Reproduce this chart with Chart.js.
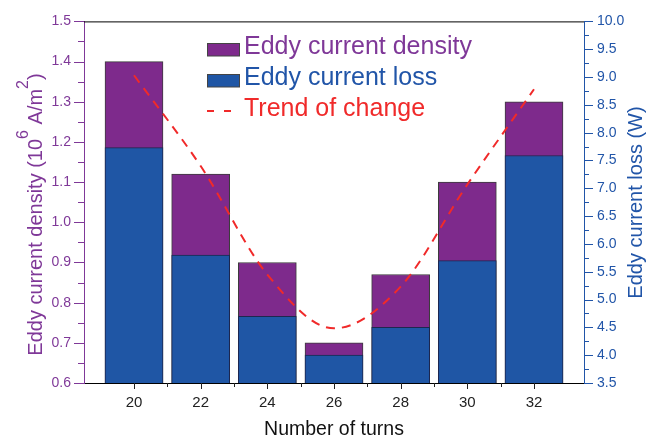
<!DOCTYPE html>
<html>
<head>
<meta charset="utf-8">
<script src="https://cdn.jsdelivr.net/npm/chart.js@4/dist/chart.umd.min.js"></script>
<style>
  html, body { margin: 0; padding: 0; background: #fff; }
  #wrap { width: 654px; height: 441px; position: relative; }
</style>
</head>
<body>
<div id="wrap"><canvas id="c"></canvas></div>
<script>
// ---- data ----
const turns = [20, 22, 24, 26, 28, 30, 32];
const density = [1.40, 1.12, 0.90, 0.70, 0.87, 1.10, 1.30];     // 10^6 A/m^2 (left axis)
const loss = [7.73, 5.80, 4.70, 4.00, 4.50, 5.70, 7.59];         // W (right axis)
const trend = [1.366, 1.14, 0.87, 0.736, 0.84, 1.094, 1.331];    // trend of change (left axis)
const seriesNames = ['Eddy current density', 'Eddy current loss', 'Trend of change'];
const xTitle = 'Number of turns';
const rightTitle = 'Eddy current loss (W)';

// ---- styles ----
const FONT = '"Liberation Sans", Arial, sans-serif';
const PURPLE = '#7E2A8C';
const BLUE = '#1F56A5';
const RED = '#F02A2A';
const PURPLE_TXT = '#7F3898';
const BLUE_TXT = '#2155A8';

const decor = {
  id: 'decor',
  afterDraw(chart) {
    const ctx = chart.ctx;
    const { left, right, top, bottom } = chart.chartArea;
    const sx = chart.scales.x, sy = chart.scales.y, sy2 = chart.scales.y2;
    ctx.save();
    // top frame line
    ctx.lineWidth = 1;
    ctx.strokeStyle = '#000';
    ctx.beginPath(); ctx.moveTo(left, top + 0.5); ctx.lineTo(right, top + 0.5); ctx.stroke();

    // left ticks
    ctx.strokeStyle = PURPLE_TXT;
    for (let i = 0; i <= 18; i++) {
      const v = sy.min + i * 0.05;
      const p = Math.round(sy.getPixelForValue(v)) + 0.5;
      const len = (i % 2 === 0) ? 10 : 6;
      ctx.beginPath(); ctx.moveTo(left, p); ctx.lineTo(left - len, p); ctx.stroke();
    }
    // right ticks
    ctx.strokeStyle = BLUE_TXT;
    for (let i = 0; i <= 26; i++) {
      const v = sy2.min + i * 0.25;
      const p = Math.round(sy2.getPixelForValue(v)) + 0.5;
      const len = (i % 2 === 0) ? 9 : 5;
      ctx.beginPath(); ctx.moveTo(right, p); ctx.lineTo(right + len, p); ctx.stroke();
    }
    // bottom ticks
    ctx.strokeStyle = '#222';
    for (let v = sx.min + 1; v < sx.max; v++) {
      const p = Math.round(sx.getPixelForValue(v)) + 0.5;
      const len = (v % 2 === 0) ? 6 : 4;
      ctx.beginPath(); ctx.moveTo(p, bottom); ctx.lineTo(p, bottom + len); ctx.stroke();
    }

    // left title with superscripts
    const segs = [
      ['Eddy current density (10', 20, 0],
      ['6', 16, -14],
      [' A/m', 20, 0],
      ['2', 16, -14],
      [')', 20, 0]
    ];
    ctx.save();
    ctx.translate(41.5, 214.5);
    ctx.rotate(-Math.PI / 2);
    ctx.fillStyle = PURPLE_TXT;
    ctx.textBaseline = 'alphabetic';
    ctx.textAlign = 'left';
    let total = 0;
    segs.forEach(s => { ctx.font = s[1] + 'px ' + FONT; total += ctx.measureText(s[0]).width; });
    let cx = -total / 2;
    segs.forEach(s => {
      ctx.font = s[1] + 'px ' + FONT;
      ctx.fillText(s[0], cx, s[2]);
      cx += ctx.measureText(s[0]).width;
    });
    ctx.restore();

    // right title
    ctx.save();
    ctx.translate(641.5, 202.5);
    ctx.rotate(-Math.PI / 2);
    ctx.fillStyle = BLUE_TXT;
    ctx.font = '20px ' + FONT;
    ctx.textAlign = 'center';
    ctx.textBaseline = 'alphabetic';
    ctx.fillText(rightTitle, 0, 0);
    ctx.restore();

    // legend
    const lx = 207, tx = 244;
    const rows = [54.3, 85, 115.7];
    ctx.font = '25px ' + FONT;
    ctx.textAlign = 'left';
    ctx.textBaseline = 'alphabetic';
    ctx.lineWidth = 1;
    // row 1
    ctx.fillStyle = PURPLE; ctx.strokeStyle = '#444';
    ctx.fillRect(lx, 43.5, 32, 12.5); ctx.strokeRect(lx + 0.5, 43.5, 32, 12.5);
    ctx.fillStyle = PURPLE_TXT; ctx.fillText(seriesNames[0], tx, rows[0]);
    // row 2
    ctx.fillStyle = BLUE; ctx.strokeStyle = '#444';
    ctx.fillRect(lx, 74.5, 32, 12.5); ctx.strokeRect(lx + 0.5, 74.5, 32, 12.5);
    ctx.fillStyle = BLUE_TXT; ctx.fillText(seriesNames[1], tx, rows[1]);
    // row 3
    ctx.strokeStyle = RED; ctx.lineWidth = 2;
    ctx.beginPath(); ctx.moveTo(lx, 111); ctx.lineTo(lx + 7, 111); ctx.stroke();
    ctx.beginPath(); ctx.moveTo(lx + 17, 111); ctx.lineTo(lx + 24, 111); ctx.stroke();
    ctx.fillStyle = RED; ctx.fillText(seriesNames[2], tx, rows[2]);
    ctx.restore();
  }
};

const pts = (arr) => turns.map((t, i) => ({ x: t, y: arr[i] }));

new Chart(document.getElementById('c'), {
  type: 'bar',
  data: {
    datasets: [
      {
        type: 'line', label: seriesNames[2], data: pts(trend), yAxisID: 'y', order: 0,
        borderColor: RED, borderWidth: 2, borderDash: [9, 7], pointRadius: 0,
        cubicInterpolationMode: 'monotone', fill: false
      },
      {
        label: seriesNames[1], data: pts(loss), yAxisID: 'y2', order: 1,
        backgroundColor: BLUE, borderColor: '#1d2750', borderWidth: 1, grouped: false,
        barThickness: 58
      },
      {
        label: seriesNames[0], data: pts(density), yAxisID: 'y', order: 2,
        backgroundColor: PURPLE, borderColor: '#3c3c3c', borderWidth: 1, grouped: false,
        barThickness: 58
      }
    ]
  },
  options: {
    responsive: true,
    maintainAspectRatio: false,
    animation: false,
    layout: { padding: { top: 16, left: 0, right: 0, bottom: 0 } },
    plugins: { legend: { display: false }, tooltip: { enabled: false } },
    scales: {
      x: {
        type: 'linear', min: 19, max: 33,
        grid: { display: false, drawTicks: false },
        border: { display: true, color: '#000', width: 1 },
        ticks: {
          stepSize: 1, autoSkip: false, maxRotation: 0, padding: 11,
          color: '#222', font: { family: FONT, size: 15 },
          callback: (v) => (v % 2 === 0 ? String(v) : '')
        },
        title: {
          display: true, text: xTitle, color: '#111',
          font: { family: FONT, size: 19.5 }, padding: { top: 0, bottom: 0 }
        },
        afterFit: (s) => { s.height = 58; }
      },
      y: {
        position: 'left', min: 0.6, max: 1.5,
        grid: { display: false, drawTicks: false },
        border: { display: true, color: PURPLE_TXT, width: 1 },
        ticks: {
          stepSize: 0.1, padding: 13, color: PURPLE_TXT, font: { family: FONT, size: 14 },
          callback: (v) => Number(v).toFixed(1)
        },
        afterFit: (s) => { s.width = 84; }
      },
      y2: {
        position: 'right', min: 3.5, max: 10,
        grid: { display: false, drawTicks: false },
        border: { display: true, color: BLUE_TXT, width: 1 },
        ticks: {
          stepSize: 0.5, padding: 13, color: BLUE_TXT, font: { family: FONT, size: 14 },
          callback: (v) => Number(v).toFixed(1)
        },
        afterFit: (s) => { s.width = 70; }
      }
    }
  },
  plugins: [decor]
});
</script>
</body>
</html>
